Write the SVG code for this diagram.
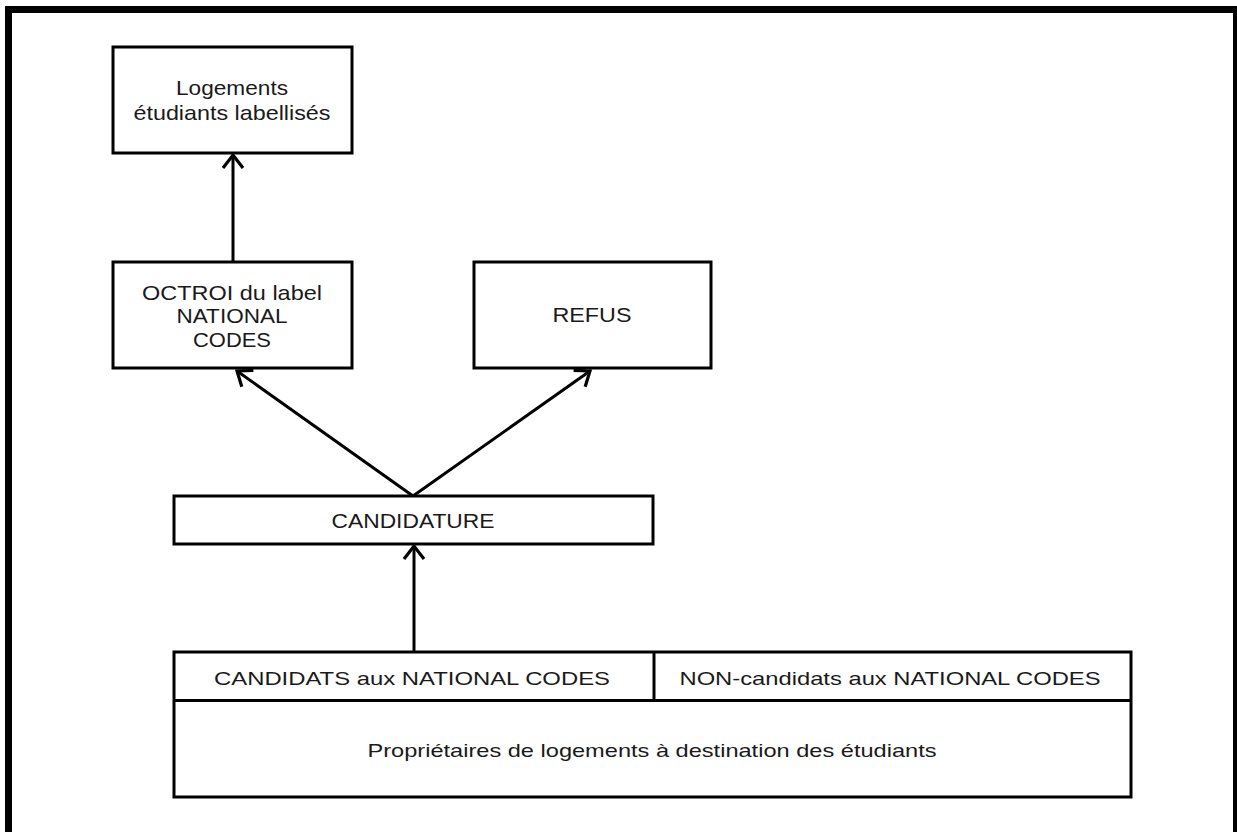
<svg xmlns="http://www.w3.org/2000/svg" width="1237" height="832" viewBox="0 0 1237 832">
<style>
.box{fill:#fff;stroke:#000;stroke-width:3}
.t{font-family:"Liberation Sans",Arial,sans-serif;font-size:21px;fill:#1a1a1a;text-anchor:middle}
.b{font-family:"Liberation Sans",Arial,sans-serif;font-size:19px;fill:#1a1a1a;text-anchor:middle}
.c{fill:none;stroke:#000;stroke-width:3}
</style>
<defs>
<marker id="arr" markerUnits="userSpaceOnUse" markerWidth="30" markerHeight="30" viewBox="-20 -15 30 30" refX="0" refY="0" orient="auto">
<path d="M-13,-10 L0,0 L-13,10" fill="none" stroke="#000" stroke-width="3.2"/>
</marker>
</defs>
<rect width="1237" height="832" fill="#fff"/>
<path d="M8.5,840 V9.5 H1236.5 V840" fill="none" stroke="#000" stroke-width="7"/>
<g id="connectors">
<line class="c" x1="233" y1="262" x2="233" y2="155" marker-end="url(#arr)"/>
<line class="c" x1="413" y1="496" x2="237" y2="371" marker-end="url(#arr)"/>
<line class="c" x1="413" y1="496" x2="590" y2="371" marker-end="url(#arr)"/>
<line class="c" x1="414" y1="652" x2="414" y2="546" marker-end="url(#arr)"/>
</g>
<g id="n-logements">
<rect class="box" x="113" y="47" width="239" height="106"/>
<text class="t" x="232" y="95" textLength="112" lengthAdjust="spacingAndGlyphs">Logements</text>
<text class="t" x="232" y="120" textLength="197" lengthAdjust="spacingAndGlyphs">étudiants labellisés</text>
</g>
<g id="n-octroi">
<rect class="box" x="113" y="262" width="239" height="106"/>
<text class="t" x="232" y="300" textLength="180" lengthAdjust="spacingAndGlyphs">OCTROI du label</text>
<text class="t" x="232" y="323" textLength="111" lengthAdjust="spacingAndGlyphs">NATIONAL</text>
<text class="t" x="232" y="347" textLength="78" lengthAdjust="spacingAndGlyphs">CODES</text>
</g>
<g id="n-refus">
<rect class="box" x="474" y="262" width="237" height="106"/>
<text class="t" x="592" y="322" textLength="79" lengthAdjust="spacingAndGlyphs">REFUS</text>
</g>
<g id="n-candidature">
<rect class="box" x="174" y="496" width="479" height="48"/>
<text class="t" x="413" y="528" textLength="163" lengthAdjust="spacingAndGlyphs">CANDIDATURE</text>
</g>
<g id="n-proprietaires">
<rect class="box" x="174" y="652" width="957" height="145"/>
<line class="c" x1="174" y1="700.5" x2="1131" y2="700.5"/>
<line class="c" x1="654" y1="652" x2="654" y2="700.5"/>
<text class="b" x="412" y="685" textLength="396" lengthAdjust="spacingAndGlyphs">CANDIDATS aux NATIONAL CODES</text>
<text class="b" x="890" y="685" textLength="421" lengthAdjust="spacingAndGlyphs">NON-candidats aux NATIONAL CODES</text>
<text class="b" x="652" y="757" textLength="569" lengthAdjust="spacingAndGlyphs">Propriétaires de logements à destination des étudiants</text>
</g>
</svg>
